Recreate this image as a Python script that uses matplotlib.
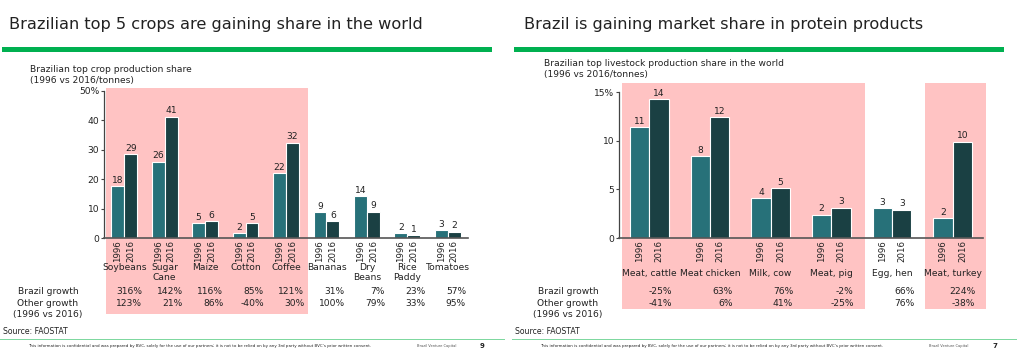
import matplotlib
matplotlib.use("Agg")
import matplotlib.pyplot as plt
from matplotlib.patches import Rectangle
from matplotlib.transforms import blended_transform_factory

# crops (left slide)
crops = ["Soybeans", "Sugar\nCane", "Maize", "Cotton", "Coffee",
         "Bananas", "Dry\nBeans", "Rice\nPaddy", "Tomatoes"]
crop_1996 = [17.7, 26.0, 5.0, 1.6, 22.0, 8.7, 14.2, 1.6, 2.7]
crop_2016 = [28.6, 41.2, 5.8, 5.0, 32.4, 5.8, 9.0, 1.0, 2.2]
crop_brazil_growth = ["316%", "142%", "116%", "85%", "121%", "31%", "7%", "23%", "57%"]
crop_other_growth = ["123%", "21%", "86%", "-40%", "30%", "100%", "79%", "33%", "95%"]
crop_highlight = [(0, 4)]

# livestock (right slide)
meats = ["Meat, cattle", "Meat chicken", "Milk, cow", "Meat, pig", "Egg, hen", "Meat, turkey"]
meat_1996 = [11.4, 8.4, 4.1, 2.4, 3.05, 2.06]
meat_2016 = [14.25, 12.4, 5.1, 3.1, 2.9, 9.9]
meat_brazil_growth = ["-25%", "63%", "76%", "-2%", "66%", "224%"]
meat_other_growth = ["-41%", "6%", "41%", "-25%", "76%", "-38%"]
meat_highlight = [(0, 3), (5, 5)]

years = ["1996", "2016"]

W, H = 1024, 356
C96 = "#277179"
C16 = "#1a4043"
PINK = "#ffc3c3"
GREEN = "#00b050"
TXT = "#222222"
FS = 6.6

fig = plt.figure(figsize=(W / 100, H / 100), dpi=100)


def fy(py):
    return 1 - py / H


def add_ax(x0, y0, x1, y1):
    ax = fig.add_axes([x0 / W, 1 - y1 / H, (x1 - x0) / W, (y1 - y0) / H])
    ax.set_facecolor("none")
    return ax


def slide(ox, title, tx, subtitle, sx, sy, page):
    fig.text((ox + tx) / W, fy(25), title, fontsize=11.6, color=TXT, va="center")
    fig.add_artist(Rectangle(((ox + 2) / W, fy(52)), 490 / W, 5 / H,
                             transform=fig.transFigure, color=GREEN, lw=0))
    fig.text((ox + sx) / W, fy(sy), subtitle, fontsize=FS, color=TXT, va="center",
             linespacing=1.2)
    fig.text((ox + 3) / W, fy(332), "Source: FAOSTAT", fontsize=5.6, color=TXT, va="center")
    fig.add_artist(Rectangle((ox / W, fy(339.5)), 505 / W, 1 / H,
                             transform=fig.transFigure, color="#7fd8a0", lw=0))
    fig.text((ox + 28) / W, fy(346),
             "This information is confidential and was prepared by BVC, solely for the use of our "
             "partners; it is not to be relied on by any 3rd party without BVC\u2019s prior written consent.",
             fontsize=2.9, color=TXT, va="center")
    fig.text((ox + 417) / W, fy(346), "Brazil Venture Capital", fontsize=2.6,
             color="#555555", va="center")
    fig.text((ox + 480) / W, fy(346), page, fontsize=5, color=TXT, va="center",
             fontweight="bold")


def chart(ax, ox, cats, v96, v16, ymax, yticks, spans, brazil, other,
          cat_y, top_pink, bottom_pink, val_off, label_x):
    n = len(cats)
    x = list(range(n))
    w = 0.32
    b1 = ax.bar([i - w / 2 for i in x], v96, w, color=C96, edgecolor="white", lw=0.8, zorder=2)
    b2 = ax.bar([i + w / 2 for i in x], v16, w, color=C16, edgecolor="white", lw=0.8, zorder=2)
    ax.bar_label(b1, fmt="%.0f", padding=1, fontsize=FS, color=TXT)
    ax.bar_label(b2, fmt="%.0f", padding=1, fontsize=FS, color=TXT)
    ax.set_xlim(-0.5, n - 0.5)
    ax.set_ylim(0, ymax)
    ax.set_yticks(yticks)
    ax.set_yticklabels([str(t) for t in yticks[:-1]] + [f"{yticks[-1]}%"])
    pos, labs = [], []
    for i in x:
        pos += [i - w / 2, i + w / 2]
        labs += years
    ax.set_xticks(pos)
    ax.set_xticklabels(labs, rotation=90, fontsize=6.2, color=TXT)
    ax.tick_params(axis="x", length=0, pad=1.5)
    ax.tick_params(axis="y", length=2.5, width=0.8, labelsize=FS, labelcolor=TXT,
                   color="#444444", pad=1)
    for s in ["top", "right"]:
        ax.spines[s].set_visible(False)
    ax.spines["left"].set_color("#444444")
    ax.spines["bottom"].set_color("#555555")
    ax.spines["left"].set_linewidth(0.9)
    ax.spines["bottom"].set_linewidth(1.2)

    tr = blended_transform_factory(ax.transData, fig.transFigure)
    for a, b in spans:
        left = a - 0.45
        right = b + 0.55
        fig.add_artist(Rectangle((left, fy(bottom_pink)), right - left,
                                 (bottom_pink - top_pink) / H, transform=tr,
                                 color=PINK, lw=0, zorder=-1))
    for i, c in enumerate(cats):
        ax.text(i, fy(cat_y), c, transform=tr, ha="center", va="top",
                fontsize=FS, color=TXT, linespacing=1.1)
        ax.text(i + val_off, fy(292), brazil[i], transform=tr, ha="right",
                va="center", fontsize=FS, color=TXT)
        ax.text(i + val_off, fy(304), other[i], transform=tr, ha="right",
                va="center", fontsize=FS, color=TXT)
    for yy, t in [(292, "Brazil growth"), (304, "Other growth"), (315, "(1996 vs 2016)")]:
        fig.text((ox + label_x) / W, fy(yy), t, fontsize=FS, color=TXT,
                 ha="center", va="center")


slide(0, "Brazilian top 5 crops are gaining share in the world", 9,
      "Brazilian top crop production share\n(1996 vs 2016/tonnes)", 30, 75, "9")
slide(512, "Brazil is gaining market share in protein products", 12,
      "Brazilian top livestock production share in the world\n(1996 vs 2016/tonnes)", 32, 69, "7")

ax1 = add_ax(104, 91, 468, 238)
chart(ax1, 0, crops, crop_1996, crop_2016, 50, [0, 10, 20, 30, 40, 50],
      crop_highlight, crop_brazil_growth, crop_other_growth,
      263, 88, 314, 0.45, 48)

ax2 = add_ax(619, 92, 983, 238)
chart(ax2, 512, meats, meat_1996, meat_2016, 15, [0, 5, 10, 15],
      meat_highlight, meat_brazil_growth, meat_other_growth,
      269, 83, 309, 0.37, 56)

fig.savefig("out.png", dpi=100)
